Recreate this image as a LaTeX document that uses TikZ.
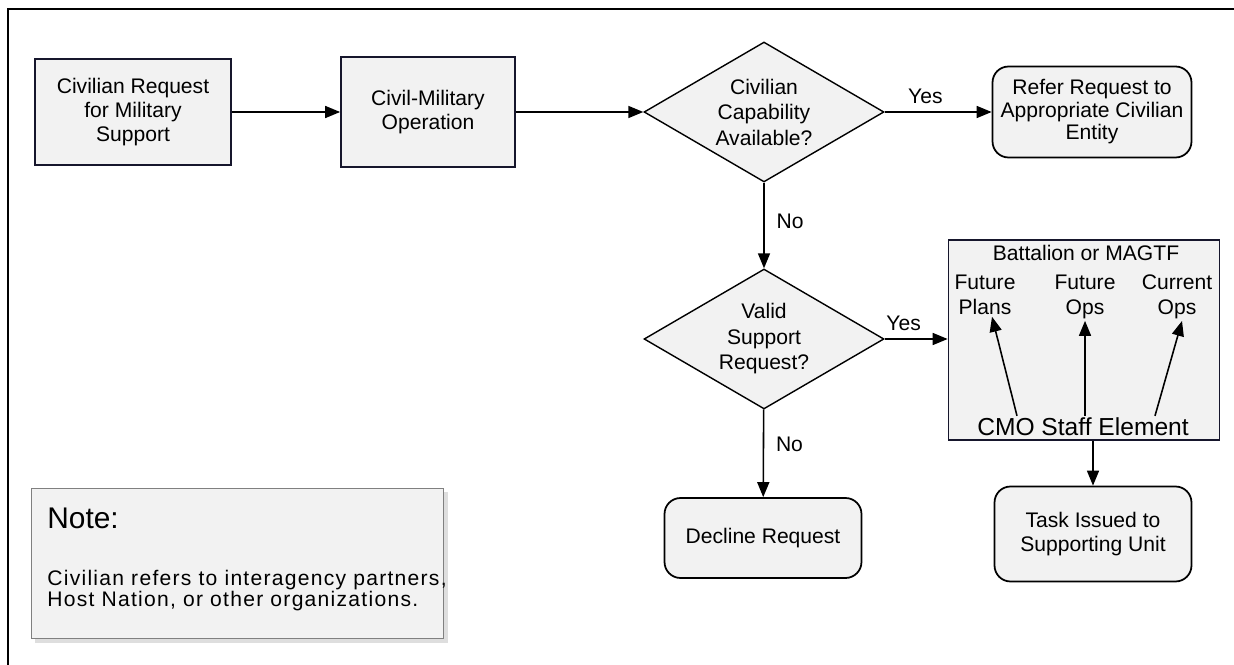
\documentclass[tikz,border=0pt]{standalone}
\usepackage{fontspec}
\setmainfont{Liberation Sans}
\usepackage{xcolor}
\usetikzlibrary{positioning, arrows.meta, shapes.geometric, backgrounds, calc}

\definecolor{boxfill}{RGB}{242,242,242}
\definecolor{boxline}{RGB}{22,22,44}
\definecolor{noteline}{RGB}{128,128,128}
\definecolor{noteshade}{RGB}{222,222,222}

\begin{document}
\begin{tikzpicture}[
		x=0.02cm, y=-0.02cm,
		procbox/.style={rectangle, draw=boxline, fill=boxfill, line width=1pt, align=center, inner sep=2pt, font=\fontsize{12}{13.6}\selectfont},
		roundbox/.style={rectangle, draw=black, fill=boxfill, rounded corners=0.32cm, line width=1pt, align=center, inner sep=2pt, font=\fontsize{12}{13.6}\selectfont},
		decision/.style={diamond, draw=black, fill=boxfill, line width=0.8pt, aspect=1.7, inner sep=0pt, minimum width=4.8cm, minimum height=2.8cm, align=center, font=\fontsize{12}{14.5}\selectfont},
		arrow/.style={-{Triangle[length=0.3cm, width=0.24cm]}, line width=0.9pt},
		lbl/.style={font=\fontsize{12}{14}\selectfont, inner sep=1pt},
		sublbl/.style={align=center, inner sep=1pt, font=\fontsize{12}{14}\selectfont}
	]
	\useasboundingbox (0,0) rectangle (1234,665);
	% outer frame (only top and left show)
	\draw[line width=1.1pt] (8,665) -- (8,9) -- (1234,9);

	\node[procbox, minimum width=3.92cm, minimum height=2.12cm] (req) at (133,112) {Civilian Request\\for Military\\Support};
	\node[procbox, minimum width=3.48cm, minimum height=2.2cm] (cmo) at (428,112) {Civil-Military\\Operation};
	\node[decision] (civcap) at (764,112) {Civilian\\Capability\\Available?};
	\node[roundbox, minimum width=3.98cm, minimum height=1.82cm, font=\fontsize{12}{12.8}\selectfont] (refer) at (1092,112) {Refer Request to\\Appropriate Civilian\\Entity};

	\node[decision] (valid) at (764,339) {Valid\\Support\\Request?};
	\node[procbox, minimum width=5.42cm, minimum height=4cm] (batt) at (1084,340) {};
	\node[roundbox, minimum width=3.94cm, minimum height=1.6cm] (decline) at (763,538) {Decline Request};
	\node[roundbox, minimum width=3.94cm, minimum height=1.9cm] (task) at (1093,534) {Task Issued to\\Supporting Unit};

	% inside the battalion box
	\node[sublbl] (batttitle) at (1086,253) {Battalion or MAGTF};
	\node[sublbl] (plans) at (985,295) {Future\\Plans};
	\node[sublbl] (futops) at (1085,297) {Future\\Ops};
	\node[sublbl] (curops) at (1177,297) {Current\\Ops};
	\node[inner sep=1pt, font=\fontsize{14}{16}\selectfont] (staff) at (1083,427) {CMO Staff Element};

	\draw[arrow] ([xshift=-1.32cm]staff.north) -- ([xshift=0.14cm]plans.south);
	\draw[arrow] (staff.north -| futops) -- (futops.south);
	\draw[arrow] ([xshift=1.44cm]staff.north) -- ([xshift=0.1cm]curops.south);

	% flow
	\draw[arrow] (req) -- (cmo);
	\draw[arrow] (cmo) -- (civcap);
	\draw[arrow] (civcap) -- node[lbl, above=3pt, pos=0.38] {Yes} (refer);
	\draw[arrow] (civcap) -- node[lbl, right=0.2cm, pos=0.45] {No} (valid);
	\draw[arrow] (valid.east) -- node[lbl, above=3pt, pos=0.3] {Yes} (valid.east -| batt.west);
	\draw[arrow] (valid) -- node[lbl, right=0.2cm, pos=0.4] {No} (decline);
	\draw[arrow] (task.north |- batt.south) -- (task.north);

	% note
	\node[rectangle, draw=noteline, fill=boxfill, minimum width=8.24cm, minimum height=3cm, anchor=north west, inner sep=0pt] (note) at (31,488) {};
	\node[anchor=west, inner sep=0pt, font=\fontsize{17}{20}\selectfont] (notehead) at (47,518) {Note:};
	\node[anchor=west, align=left, inner sep=0pt, font=\fontsize{12}{12}\selectfont\addfontfeature{LetterSpace=6}] (notebody) at (47,591) {Civilian refers to interagency partners,\\Host Nation, or other organizations.};
	\begin{scope}[on background layer]
		\fill[noteshade] ([shift={(0.08cm,-0.08cm)}]note.north west) rectangle ([shift={(0.08cm,-0.08cm)}]note.south east);
	\end{scope}
\end{tikzpicture}
\end{document}
